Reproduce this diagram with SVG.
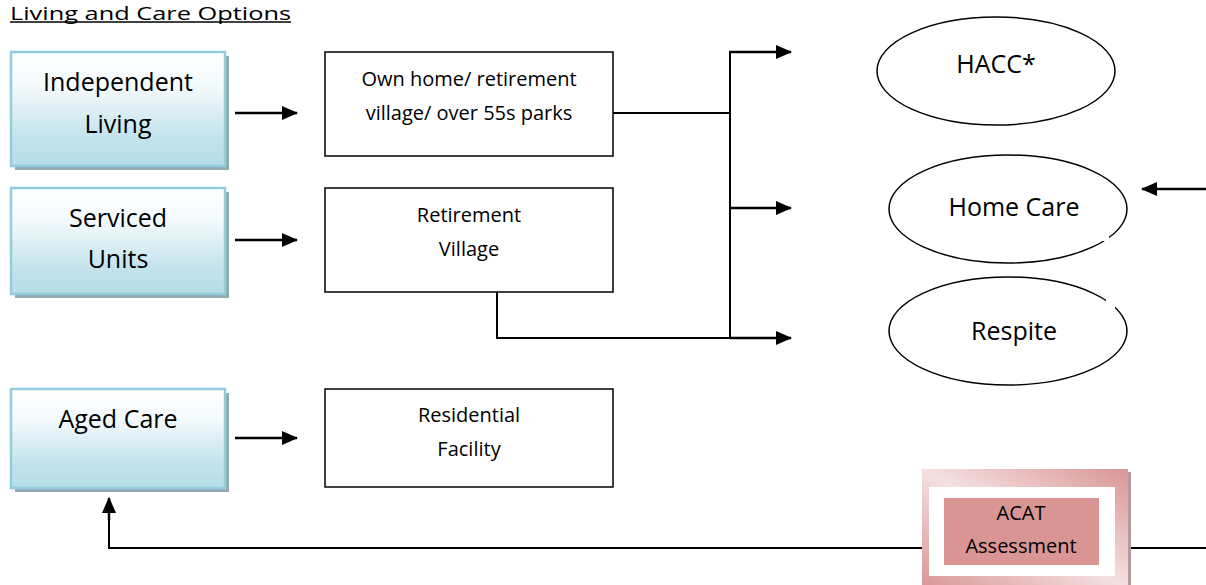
<svg xmlns="http://www.w3.org/2000/svg" width="1206" height="585" viewBox="0 0 1206 585">
<defs>
<linearGradient id="blueGrad" x1="0" y1="0" x2="0" y2="1">
<stop offset="0" stop-color="#ffffff"/>
<stop offset="0.3" stop-color="#f4fafc"/>
<stop offset="0.75" stop-color="#c3e3ec"/>
<stop offset="1" stop-color="#b6dde7"/>
</linearGradient>
<linearGradient id="pinkGrad" x1="1" y1="0" x2="0" y2="1">
<stop offset="0" stop-color="#d99594"/>
<stop offset="0.5" stop-color="#f4e1e1"/>
<stop offset="1" stop-color="#d99594"/>
</linearGradient>
<marker id="arrBig" markerWidth="16" markerHeight="14" refX="15" refY="7" orient="auto" markerUnits="userSpaceOnUse" viewBox="0 0 16 14">
<path d="M0,0 L16,7 L0,14 Z" fill="#000"/>
</marker>
</defs>
<style>
.t{font-family:"Open Sans","Liberation Sans",sans-serif;fill:#000;text-anchor:middle}
.big{font-size:25px}
.sm{font-size:20px}
.blue{fill:url(#blueGrad);stroke:#93cddd;stroke-width:2.5}
.shadow{fill:#95abb2}
.wbox{fill:#fff;stroke:#000;stroke-width:1.5}
.ell{fill:#fff;stroke:#000;stroke-width:1.5}
.ln{fill:none;stroke:#000;stroke-width:2}
.arrow{fill:none;stroke:#000;stroke-width:2.5;marker-end:url(#arrBig)}
</style>
<rect width="1206" height="585" fill="#fff"/>

<g id="title">
<text x="10" y="20" font-family="Open Sans, Liberation Sans, sans-serif" font-size="18" textLength="281" lengthAdjust="spacingAndGlyphs">Living and Care Options</text>
<line x1="10" y1="22" x2="291" y2="22" stroke="#000" stroke-width="1.5"/>
</g>

<g id="connectors">
<line class="arrow" x1="235" y1="113" x2="297" y2="113"/>
<line class="arrow" x1="235" y1="240" x2="297" y2="240"/>
<line class="arrow" x1="235" y1="438" x2="297" y2="438"/>
<polyline class="ln" points="613,113 730,113"/>
<polyline class="ln" points="730,338 730,52"/>
<line class="arrow" x1="729" y1="52" x2="791" y2="52"/>
<line class="arrow" x1="730" y1="208" x2="791" y2="208"/>
<polyline class="ln" points="497,292 497,338 760,338"/>
<line class="arrow" x1="730" y1="338" x2="791" y2="338"/>
<line class="arrow" x1="1206" y1="189" x2="1142" y2="189"/>
<polyline class="ln" points="1206,548 1128,548"/>
<polyline class="ln" points="922,548 109,548 109,510"/>
<line class="arrow" x1="109" y1="520" x2="109" y2="498"/>
</g>

<g id="independent-living">
<rect class="shadow" x="15" y="56" width="214" height="114"/>
<rect class="blue" x="11" y="52" width="214" height="114"/>
<text class="t big" x="118" y="91">Independent</text>
<text class="t big" x="118" y="133">Living</text>
</g>

<g id="serviced-units">
<rect class="shadow" x="15" y="192" width="214" height="106"/>
<rect class="blue" x="11" y="188" width="214" height="106"/>
<text class="t big" x="118" y="227">Serviced</text>
<text class="t big" x="118" y="268">Units</text>
</g>

<g id="aged-care">
<rect class="shadow" x="15" y="393" width="214" height="99"/>
<rect class="blue" x="11" y="389" width="214" height="99"/>
<text class="t big" x="118" y="428">Aged Care</text>
</g>

<g id="own-home">
<rect class="wbox" x="325" y="52" width="288" height="104"/>
<text class="t sm" x="469" y="86">Own home/ retirement</text>
<text class="t sm" x="469" y="120">village/ over 55s parks</text>
</g>

<g id="retirement-village">
<rect class="wbox" x="325" y="188" width="288" height="104"/>
<text class="t sm" x="469" y="222">Retirement</text>
<text class="t sm" x="469" y="256">Village</text>
</g>

<g id="residential-facility">
<rect class="wbox" x="325" y="389" width="288" height="98"/>
<text class="t sm" x="469" y="422">Residential</text>
<text class="t sm" x="469" y="456">Facility</text>
</g>

<g id="hacc">
<ellipse class="ell" cx="996" cy="71" rx="119" ry="54"/>
<text class="t big" x="996" y="73">HACC*</text>
</g>

<g id="home-care">
<ellipse class="ell" cx="1008" cy="209" rx="119" ry="54"/>
<rect x="1103" y="234" width="6" height="7" fill="#fff"/>
<text class="t big" x="1014" y="216">Home Care</text>
</g>

<g id="respite">
<ellipse class="ell" cx="1008" cy="331" rx="119" ry="54"/>
<rect x="1106" y="299" width="9" height="10" fill="#fff"/>
<text class="t big" x="1014" y="340">Respite</text>
</g>

<g id="acat">
<rect x="925" y="472" width="206" height="120" fill="#b79a9a"/>
<rect x="922" y="469" width="206" height="120" fill="url(#pinkGrad)"/>
<rect x="929" y="487" width="186" height="89" fill="#fff"/>
<rect x="944" y="498" width="155" height="67" fill="#d99594"/>
<text class="t sm" x="1021" y="520">ACAT</text>
<text class="t sm" x="1021" y="553">Assessment</text>
</g>
</svg>
